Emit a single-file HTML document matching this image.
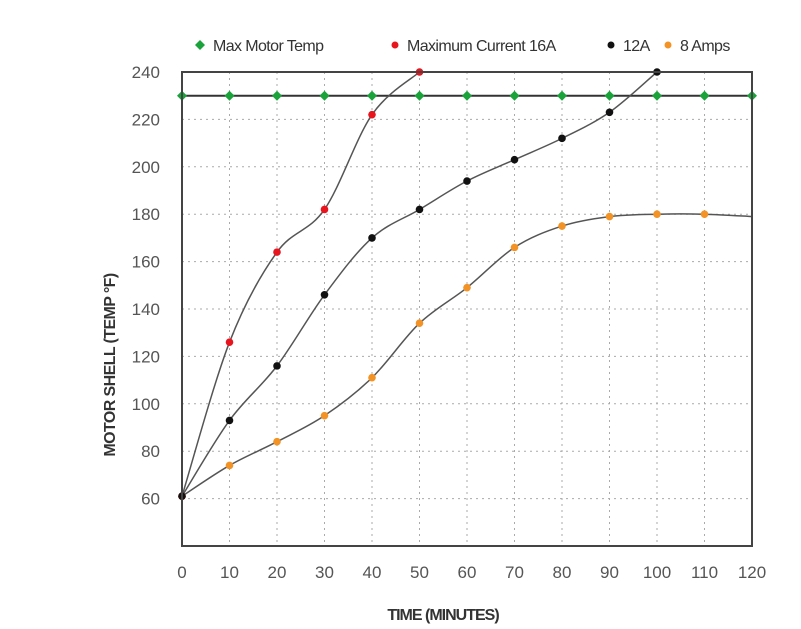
<!DOCTYPE html>
<html><head><meta charset="utf-8"><style>
body{margin:0;background:#fff;}
svg{display:block;font-family:"Liberation Sans",sans-serif;}
</style></head><body>
<svg id="chart" width="801" height="629" xmlns="http://www.w3.org/2000/svg">
<g id="grid"></g>
<g id="series"></g>
<rect x="182" y="72" width="570" height="474" fill="none" stroke="#444" stroke-width="2"/>
<g id="ticks"></g>
<text transform="translate(115,365) rotate(-90)" text-anchor="middle" font-size="16" font-weight="bold" fill="#333" letter-spacing="-0.6">MOTOR SHELL (TEMP °F)</text>
<text x="443" y="620" text-anchor="middle" font-size="16" font-weight="bold" fill="#333" letter-spacing="-1">TIME (MINUTES)</text>
<g font-size="16" fill="#333">
<g><path d="M200 40 L205 45 L200 50 L195 45Z" fill="#1aa33a"/><text x="213" y="51" letter-spacing="-0.6">Max Motor Temp</text></g>
<g><circle cx="395" cy="45" r="3.5" fill="#e8141e"/><text x="407" y="51" letter-spacing="-0.6">Maximum Current 16A</text></g>
<g><circle cx="611" cy="45" r="3.5" fill="#111"/><text x="623" y="51" letter-spacing="-0.6">12A</text></g>
<g><circle cx="668" cy="45" r="3.5" fill="#f39325"/><text x="680" y="51" letter-spacing="-0.6">8 Amps</text></g>
</g>
</svg>
<script>
const xTicks=[0,10,20,30,40,50,60,70,80,90,100,110,120];
const yTicks=[60,80,100,120,140,160,180,200,220,240];
const maxTemp=[230,230,230,230,230,230,230,230,230,230,230,230,230];
const amp16=[61,126,164,182,222,240];
const amp12=[61,93,116,146,170,182,194,203,212,223,240];
const amp8=[61,74,84,95,111,134,149,166,175,179,180,180,179];
const amp8Markers=12;
const NS="http://www.w3.org/2000/svg";
const X=v=>182+v*(570/120);
const Y=v=>546-(v-40)*(474/200);
function mk(t,a,p){const e=document.createElementNS(NS,t);for(const k in a)e.setAttribute(k,a[k]);p.appendChild(e);return e;}
const grid=document.getElementById('grid'),ticks=document.getElementById('ticks'),ser=document.getElementById('series');
xTicks.forEach(v=>{
 if(v>0&&v<120){const l=mk('line',{x1:X(v),x2:X(v),y1:72,y2:546,stroke:'#aaa','stroke-dasharray':'2 4'},grid);
 
 }
 const t=mk('text',{x:X(v),y:578,'text-anchor':'middle','font-size':17,fill:'#555'},ticks);t.textContent=v;
 
 
});
yTicks.forEach(v=>{
 if(v<240){const l=mk('line',{x1:182,x2:752,y1:Y(v),y2:Y(v),stroke:'#aaa','stroke-dasharray':'2 4'},grid);
 
 }
 const t=mk('text',{x:160,y:Y(v)+6,'text-anchor':'end','font-size':17,fill:'#555'},ticks);t.textContent=v;
 
 
});
function curve(vals){const p=vals.map((v,i)=>[X(xTicks[i]),Y(v)]);let d='M'+p[0][0]+' '+p[0][1];
 for(let i=0;i<p.length-1;i++){const p0=p[i-1]||p[i],p1=p[i],p2=p[i+1],p3=p[i+2]||p2;
 d+=` C${p1[0]+(p2[0]-p0[0])/6} ${p1[1]+(p2[1]-p0[1])/6} ${p2[0]-(p3[0]-p1[0])/6} ${p2[1]-(p3[1]-p1[1])/6} ${p2[0]} ${p2[1]}`;}return d;}
function series(vals,color,name,nMarks,straight){
 const path=mk('path',{d:straight?('M'+vals.map((v,i)=>X(xTicks[i])+' '+Y(v)).join(' L')):curve(vals),fill:'none',stroke:straight?'#333':'#555','stroke-width':straight?2:1.5},ser);
 
 
 vals.slice(0,nMarks).forEach((v,i)=>{let m;
  if(straight){const x=X(xTicks[i]),y=Y(v);m=mk('path',{d:`M${x} ${y-5}L${x+5} ${y}L${x} ${y+5}L${x-5} ${y}Z`,fill:color},ser);}
  else m=mk('circle',{cx:X(xTicks[i]),cy:Y(v),r:3.8,fill:color},ser);
  
  });
}
series(maxTemp,'#1aa33a','max-motor-temp',maxTemp.length,true);
series(amp8,'#f39325','amps-8',amp8Markers,false);
series(amp16,'#e8141e','amps-16',amp16.length,false);
series(amp12,'#111','amps-12',amp12.length,false);
</script>
</body></html>
